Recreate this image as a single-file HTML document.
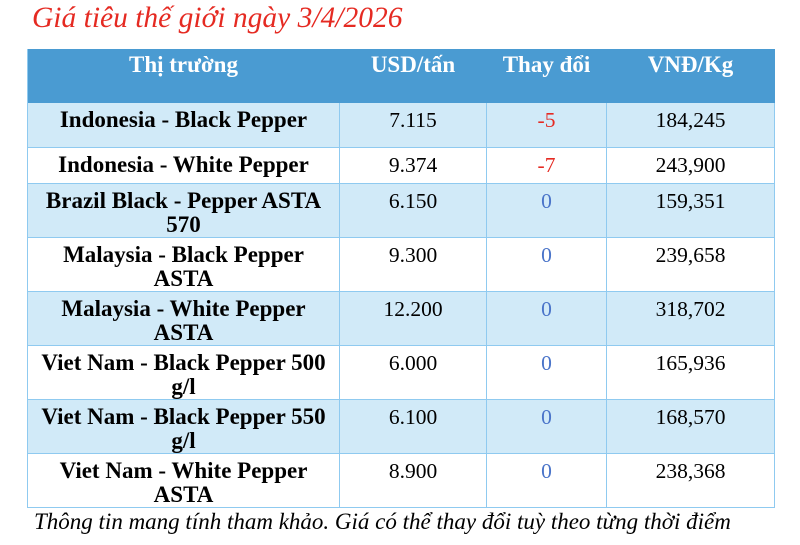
<!DOCTYPE html>
<html><head><meta charset="utf-8"><style>
body{margin:0;width:800px;height:545px;background:#fff;position:relative;overflow:hidden;font-family:"Liberation Serif",serif}
.t{position:absolute;left:32px;top:2px;font-size:29.5px;font-style:italic;color:#e52a22;white-space:nowrap}
.c{position:absolute;box-sizing:border-box;border-right:1.5px solid #8fcaf0;border-bottom:1.5px solid #8fcaf0;text-align:center;font-size:21.5px;line-height:24px;padding-top:5px;white-space:nowrap}
.h{background:#4a9bd2;color:#fff;font-weight:bold;border-color:#4a9bd2;padding-top:4px;font-size:23px}
.b{font-weight:bold;font-size:23px}
.l{background:#d1eaf8}
.r{color:#e52a22}.z{color:#4a74c9}
.f{position:absolute;left:34px;top:509px;font-size:23px;font-style:italic;white-space:nowrap}
.frame{position:absolute;left:27px;top:49px;width:748px;height:459px;border-left:1.5px solid #8fcaf0;box-sizing:border-box}
</style></head><body>
<div class="t">Giá tiêu thế giới ngày 3/4/2026</div>
<div class="frame"></div>
<div id="g"></div>
<div class="f">Thông tin mang tính tham khảo. Giá có thể thay đổi tuỳ theo từng thời điểm</div>
<script>
var cols=[28,340,487,607,775];
var rows=[49,103,148,184,238,292,346,400,454,508];
var data=[
["Thị trường","USD/tấn","Thay đổi","VNĐ/Kg"],
["Indonesia - Black Pepper","7.115","-5","184,245"],
["Indonesia - White Pepper","9.374","-7","243,900"],
["Brazil Black - Pepper ASTA<br>570","6.150","0","159,351"],
["Malaysia - Black Pepper<br>ASTA","9.300","0","239,658"],
["Malaysia - White Pepper<br>ASTA","12.200","0","318,702"],
["Viet Nam - Black Pepper 500<br>g/l","6.000","0","165,936"],
["Viet Nam - Black Pepper 550<br>g/l","6.100","0","168,570"],
["Viet Nam - White Pepper<br>ASTA","8.900","0","238,368"]];
var h="";
for(var r=0;r<9;r++)for(var c=0;c<4;c++){
var cls="c";
if(r==0)cls+=" h";else{ if(r%2==1)cls+=" l"; if(c==0)cls+=" b"; if(c==2)cls+=(data[r][2]=="0"?" z":" r");}
h+='<div class="'+cls+'" style="left:'+cols[c]+'px;top:'+rows[r]+'px;width:'+(cols[c+1]-cols[c])+'px;height:'+(rows[r+1]-rows[r])+'px">'+data[r][c]+'</div>';}
document.getElementById("g").innerHTML=h;
</script>
</body></html>
